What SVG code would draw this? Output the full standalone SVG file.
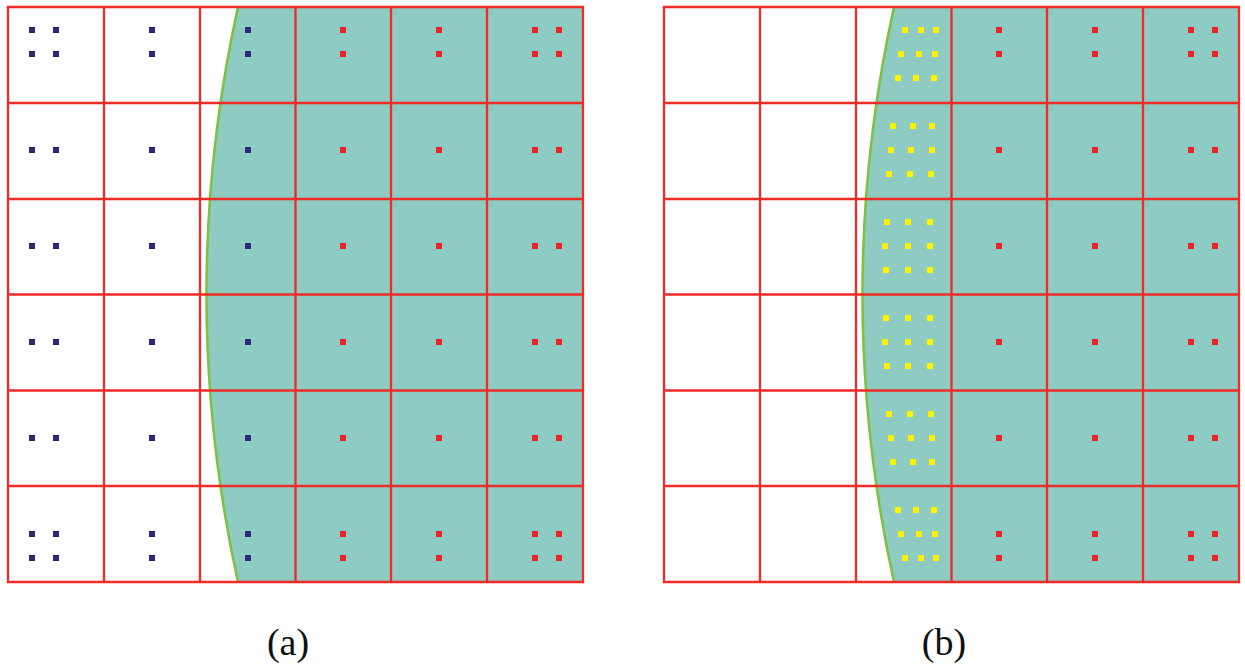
<svg xmlns="http://www.w3.org/2000/svg" xmlns:xlink="http://www.w3.org/1999/xlink" width="1245" height="666" viewBox="0 0 1245 666">
<style>
.fill{fill:#8ecbc3;stroke:none}
.curve{fill:none;stroke:#7dc243;stroke-width:2.6}
.grid{fill:none;stroke:#ee2b25;stroke-width:2.3}
.lbl{font-family:"Liberation Serif","Times New Roman",serif;font-size:38px;fill:#111;text-anchor:middle}
</style>
<defs>
<rect id="n" x="-3" y="-3" width="6" height="6" fill="#2c2b7e"/>
<rect id="r" x="-3" y="-3" width="6" height="6" fill="#ec2323"/>
<rect id="y" x="-3" y="-3" width="6" height="6" fill="#fff200"/>
<g id="gridlines">
<path class="grid" d="M8,7H583V582H8Z M104,7V582 M200,7V582 M295.5,7V582 M391,7V582 M487,7V582 M8,103H583 M8,199H583 M8,294.5H583 M8,390.5H583 M8,486H583"/>
</g>
<g id="reddots">
<use href="#r" x="343" y="30"/><use href="#r" x="343" y="54"/>
<use href="#r" x="439" y="30"/><use href="#r" x="439" y="54"/>
<use href="#r" x="535" y="30"/><use href="#r" x="559" y="30"/><use href="#r" x="535" y="54"/><use href="#r" x="559" y="54"/>
<use href="#r" x="343" y="150"/><use href="#r" x="439" y="150"/><use href="#r" x="535" y="150"/><use href="#r" x="559" y="150"/>
<use href="#r" x="343" y="246"/><use href="#r" x="439" y="246"/><use href="#r" x="535" y="246"/><use href="#r" x="559" y="246"/>
<use href="#r" x="343" y="342"/><use href="#r" x="439" y="342"/><use href="#r" x="535" y="342"/><use href="#r" x="559" y="342"/>
<use href="#r" x="343" y="438"/><use href="#r" x="439" y="438"/><use href="#r" x="535" y="438"/><use href="#r" x="559" y="438"/>
<use href="#r" x="343" y="534"/><use href="#r" x="343" y="558"/>
<use href="#r" x="439" y="534"/><use href="#r" x="439" y="558"/>
<use href="#r" x="535" y="534"/><use href="#r" x="559" y="534"/><use href="#r" x="535" y="558"/><use href="#r" x="559" y="558"/>
</g>
</defs>
<rect width="1245" height="666" fill="#fff"/>
<g id="panel-a">
<path class="fill" d="M238,7 Q175,294.5 238,582 L583,582 L583,7 Z"/>
<path class="curve" d="M238,7 Q175,294.5 238,582"/>
<use href="#gridlines"/>
<g id="navy-dots">
<use href="#n" x="32" y="30"/><use href="#n" x="56" y="30"/><use href="#n" x="32" y="54"/><use href="#n" x="56" y="54"/>
<use href="#n" x="152" y="30"/><use href="#n" x="152" y="54"/>
<use href="#n" x="248" y="30"/><use href="#n" x="248" y="54"/>
<use href="#n" x="32" y="150"/><use href="#n" x="56" y="150"/><use href="#n" x="152" y="150"/><use href="#n" x="248" y="150"/>
<use href="#n" x="32" y="246"/><use href="#n" x="56" y="246"/><use href="#n" x="152" y="246"/><use href="#n" x="248" y="246"/>
<use href="#n" x="32" y="342"/><use href="#n" x="56" y="342"/><use href="#n" x="152" y="342"/><use href="#n" x="248" y="342"/>
<use href="#n" x="32" y="438"/><use href="#n" x="56" y="438"/><use href="#n" x="152" y="438"/><use href="#n" x="248" y="438"/>
<use href="#n" x="32" y="534"/><use href="#n" x="56" y="534"/><use href="#n" x="32" y="558"/><use href="#n" x="56" y="558"/>
<use href="#n" x="152" y="534"/><use href="#n" x="152" y="558"/>
<use href="#n" x="248" y="534"/><use href="#n" x="248" y="558"/>
</g>
<use href="#reddots"/>
<text class="lbl" x="288" y="655">(a)</text>
</g>
<g id="panel-b">
<path class="fill" d="M894,7 Q831,294.5 894,582 L1239,582 L1239,7 Z"/>
<path class="curve" d="M894,7 Q831,294.5 894,582"/>
<use href="#gridlines" x="656"/>
<g id="yellow-dots">
<use href="#y" x="905" y="30"/><use href="#y" x="921" y="30"/><use href="#y" x="936" y="30"/>
<use href="#y" x="901" y="54"/><use href="#y" x="919" y="54"/><use href="#y" x="935" y="54"/>
<use href="#y" x="898" y="78"/><use href="#y" x="916" y="78"/><use href="#y" x="934" y="78"/>
<use href="#y" x="893" y="126"/><use href="#y" x="913" y="126"/><use href="#y" x="932" y="126"/>
<use href="#y" x="891" y="150"/><use href="#y" x="911" y="150"/><use href="#y" x="932" y="150"/>
<use href="#y" x="889" y="174"/><use href="#y" x="910" y="174"/><use href="#y" x="931" y="174"/>
<use href="#y" x="887" y="222"/><use href="#y" x="908" y="222"/><use href="#y" x="930" y="222"/>
<use href="#y" x="885" y="246"/><use href="#y" x="908" y="246"/><use href="#y" x="930" y="246"/>
<use href="#y" x="886" y="270"/><use href="#y" x="908" y="270"/><use href="#y" x="930" y="270"/>
<use href="#y" x="886" y="318"/><use href="#y" x="908" y="318"/><use href="#y" x="930" y="318"/>
<use href="#y" x="885" y="342"/><use href="#y" x="908" y="342"/><use href="#y" x="930" y="342"/>
<use href="#y" x="887" y="366"/><use href="#y" x="908" y="366"/><use href="#y" x="930" y="366"/>
<use href="#y" x="889" y="414"/><use href="#y" x="910" y="414"/><use href="#y" x="931" y="414"/>
<use href="#y" x="891" y="438"/><use href="#y" x="911" y="438"/><use href="#y" x="932" y="438"/>
<use href="#y" x="893" y="462"/><use href="#y" x="913" y="462"/><use href="#y" x="932" y="462"/>
<use href="#y" x="898" y="510"/><use href="#y" x="916" y="510"/><use href="#y" x="934" y="510"/>
<use href="#y" x="901" y="534"/><use href="#y" x="919" y="534"/><use href="#y" x="935" y="534"/>
<use href="#y" x="905" y="558"/><use href="#y" x="921" y="558"/><use href="#y" x="936" y="558"/>
</g>
<use href="#reddots" x="656"/>
<text class="lbl" x="944" y="655">(b)</text>
</g>
</svg>
